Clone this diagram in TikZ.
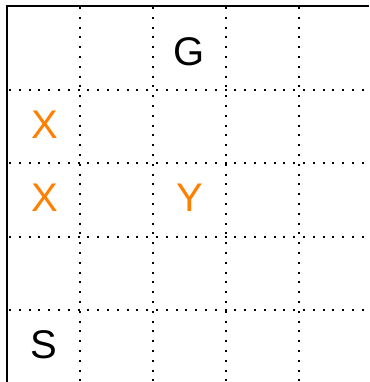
\documentclass[tikz,border=0pt]{standalone}
\usepackage{fontspec}
\setmainfont{Liberation Sans}
\definecolor{markorange}{RGB}{255,128,0}
\begin{document}
\begin{tikzpicture}[x=1pt,y=-1pt,
  cell/.style={font=\fontsize{40}{44}\selectfont, inner sep=0pt},
  gridline/.style={line width=2pt, dash pattern=on 2pt off 7.8pt}]
  \useasboundingbox (0,0) rectangle (369,382);
  % dotted grid
  \foreach \x in {80,153,226,299} \draw[gridline] (\x,7) -- (\x,382);
  \foreach \y in {90,163,237,310} \draw[gridline] (9,\y) -- (369,\y);
  % frame
  \draw[line width=2.5pt] (7,382) -- (7,6) -- (369,6);
  % letters
  \node[cell] (goal) at (189.5,52) {G};
  \node[cell, text=markorange] (xa) at (44.5,124.5) {X};
  \node[cell, text=markorange] (xb) at (44.5,198) {X};
  \node[cell, text=markorange] (yy) at (190,198) {Y};
  \node[cell] (start) at (44,345) {S};
\end{tikzpicture}
\end{document}
